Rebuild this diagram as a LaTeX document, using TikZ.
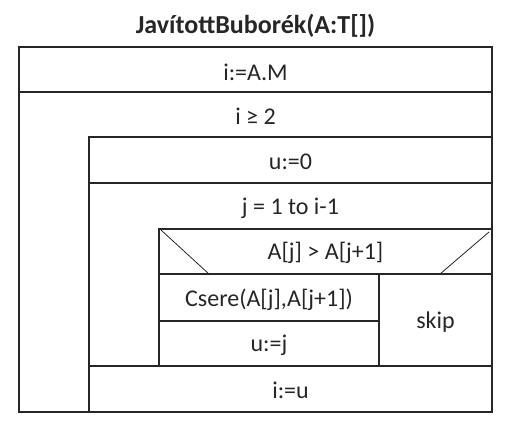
\documentclass[tikz,border=0pt]{standalone}
\usepackage{fontspec}
\setmainfont{Carlito}
\begin{document}
\begin{tikzpicture}[x=1pt,y=-1pt,
  frame/.style={draw=black!85,line width=1.1pt},
  txt/.style={font=\fontsize{24}{28}\selectfont,text=black!85,inner sep=0pt,anchor=center}]
\useasboundingbox (0,0) rectangle (521,423);
% title
\node[txt,font=\bfseries\fontsize{26}{31}\selectfont] (title) at (255.5,26) {JavítottBuborék(A:T[])};
% frames
\draw[frame] (19,47) rectangle (492,412);
\draw[frame] (19,92) -- (492,92);
\draw[frame] (89,412) -- (89,137) -- (492,137);
\draw[frame] (89,183) -- (492,183);
\draw[frame] (159,366) -- (159,229) -- (492,229);
\draw[frame] (159,274) -- (492,274);
\draw[frame] (379,274) -- (379,366);
\draw[frame] (159,321) -- (379,321);
\draw[frame] (89,366) -- (492,366);
\draw[frame,line width=0.8pt] (161,230) -- (209,274);
\draw[frame,line width=0.8pt] (489,232) -- (440,274);
% texts
\node[txt] (init) at (255.5,72) {i:=A.M};
\node[txt] (cond) at (255.5,116) {i ≥ 2};
\node[txt] (u0) at (290.5,162) {u:=0};
\node[txt] (forj) at (290.5,208) {j = 1 to i-1};
\node[txt] (ifc) at (325.5,253) {A[j] > A[j+1]};
\node[txt] (swap) at (269,300) {Csere(A[j],A[j+1])};
\node[txt] (uj) at (269,345) {u:=j};
\node[txt] (skip) at (435.5,322) {skip};
\node[txt] (iu) at (290.5,390) {i:=u};
\end{tikzpicture}
\end{document}
